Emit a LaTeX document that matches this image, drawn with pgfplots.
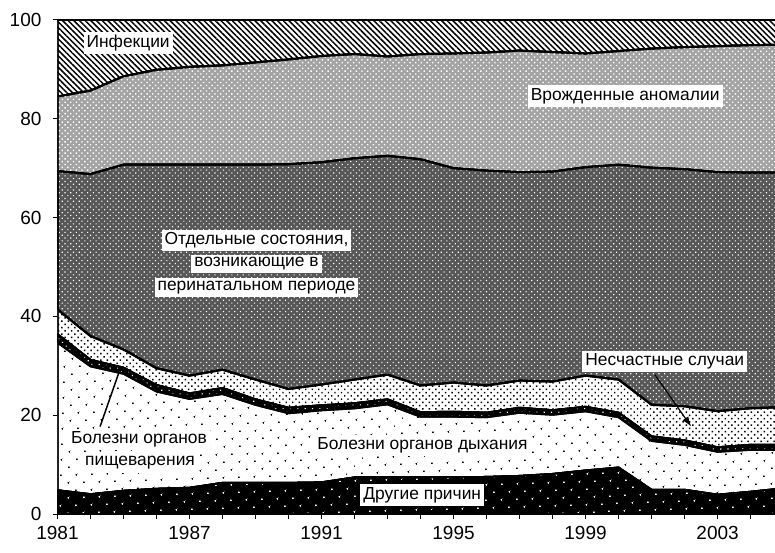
\documentclass[border=0pt]{standalone}
\usepackage{fontspec}
\setmainfont{Liberation Sans}
\usepackage{pgfplots}
\usepackage{pgfplotstable}
\pgfplotsset{compat=1.18}
\usetikzlibrary{patterns.meta, arrows.meta}

\pgfplotstableread{
i  other resp dig acc peri cong inf
0  4.8 29.9 1.7 5.0 28.0 15.1 15.5
1  4.0 25.9 1.3 4.8 32.8 16.9 14.3
2  4.7 23.7 1.2 3.7 37.4 17.9 11.4
3  5.1 19.7 1.3 3.4 41.2 19.2 10.1
4  5.3 18.0 1.1 3.6 42.7 19.8 9.5
5  6.3 18.0 1.2 3.7 41.5 20.1 9.2
6  6.3 15.8 1.1 4.0 43.5 20.7 8.6
7  6.3 14.1 1.1 3.8 45.5 21.2 8.0
8  6.4 14.6 1.0 4.2 45.0 21.5 7.3
9  7.4 14.0 1.0 4.8 44.8 21.1 6.9
10 7.4 14.8 1.0 5.0 44.3 20.1 7.4
11 7.4 12.3 0.9 5.4 45.8 21.3 6.9
12 7.4 12.3 1.0 5.9 43.4 23.2 6.8
13 7.5 12.1 0.9 5.5 43.5 23.9 6.6
14 7.7 12.8 1.0 5.5 42.2 24.6 6.2
15 8.1 12.0 0.9 5.8 42.5 24.2 6.5
16 8.8 12.0 0.9 6.3 42.2 23.0 6.8
17 9.4 10.2 0.9 6.7 43.5 23.0 6.3
18 4.9 9.9 0.9 6.4 48.0 24.1 5.8
19 4.9 9.1 0.9 6.9 48.0 24.7 5.5
20 3.9 8.7 0.9 7.3 48.4 25.5 5.3
21 4.5 8.5 1.0 7.4 47.7 25.8 5.1
22 5.2 7.8 1.0 7.6 47.5 25.9 5.0
}\datatable

\begin{document}
\begin{tikzpicture}[lbl/.style={fill=white, text=black, inner sep=1.5pt, font=\fontsize{8.7}{10}\selectfont}]
\useasboundingbox (0,0) rectangle (387.5pt,276pt);
\begin{axis}[
  at={(28.75pt,19pt)}, anchor=south west,
  scale only axis, width=358.75pt, height=247pt,
  xmin=0, xmax=21.74, ymin=0, ymax=100,
  axis lines*=left,
  axis line style={black, line width=0.5pt},
  stack plots=y,
  ytick={0,20,...,100},
  xtick={0,...,21},
  xticklabels={1981,,,,1987,,,,1991,,,,1995,,,,1999,,,,2003,},
  tick align=outside, major tick length=2.5pt,
  tick style={black, line width=0.5pt},
  ticklabel style={font=\fontsize{9.5}{11}\selectfont},
  yticklabel style={xshift=-2pt},
  /pgf/number format/assume math mode=true,
  every axis plot/.append style={no marks, line width=1pt, draw=black},
]
\addplot[preaction={fill=black}, pattern={Dots[angle=45,distance=5.4pt,radius=0.55pt]}, pattern color=white] table[x=i,y=other]{\datatable} \closedcycle;
\addplot[preaction={fill=white}, pattern={Dots[angle=45,distance=5.4pt,radius=0.55pt]}, pattern color=black] table[x=i,y=resp]{\datatable} \closedcycle;
\addplot[preaction={fill=black}, pattern={Dots[angle=45,distance=2.6pt,radius=0.4pt]}, pattern color=white] table[x=i,y=dig]{\datatable} \closedcycle;
\addplot[preaction={fill=white}, pattern={Dots[angle=45,distance=2.3pt,radius=0.5pt]}, pattern color=black] table[x=i,y=acc]{\datatable} \closedcycle;
\addplot[preaction={fill=black!66}, pattern={Dots[angle=45,distance=2pt,radius=0.4pt]}, pattern color=white] table[x=i,y=peri]{\datatable} \closedcycle;
\addplot[preaction={fill=black!36}, pattern={Dots[angle=45,distance=2pt,radius=0.5pt]}, pattern color=white] table[x=i,y=cong]{\datatable} \closedcycle;
\addplot[preaction={fill=white}, pattern={Lines[angle=-45,distance=2pt,line width=0.75pt]}, pattern color=black] table[x=i,y=inf]{\datatable} \closedcycle;
\end{axis}
\begin{scope}[shift={(28.75pt,19pt)}, x=16.5019pt, y=2.47pt]
\draw[line width=0.75pt] (1.29,17.7) -- (1.89,29.2);
\draw[line width=0.6pt, -{Latex[length=5pt,width=3.5pt]}] (18.1,28.2) -- (19.2,17.7);
\node[lbl] at (2.14,95.3) {Инфекции};
\node[lbl] at (17.2,84.6) {Врожденные аномалии};
\node[lbl] at (6.03,55.4) {Отдельные состояния,};
\node[lbl] at (6.03,50.6) {возникающие в};
\node[lbl] at (6.03,45.8) {перинатальном периоде};
\node[lbl] at (18.4,30.9) {Несчастные случаи};
\node[lbl] at (2.47,15.1) {Болезни органов};
\node[lbl] at (2.5,10.3) {пищеварения};
\node[lbl] at (11.06,13.9) {Болезни органов дыхания};
\node[lbl] at (11.05,3.85) {Другие причин};
\end{scope}
\end{tikzpicture}
\end{document}
